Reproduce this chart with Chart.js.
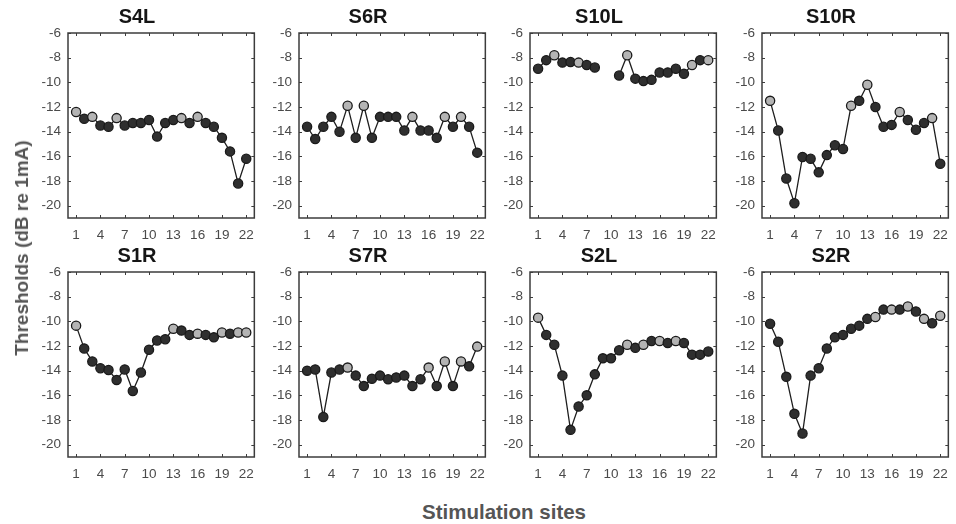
<!DOCTYPE html>
<html>
<head>
<meta charset="utf-8">
<script src="https://cdn.jsdelivr.net/npm/chart.js@4.4.1/dist/chart.umd.min.js"></script>
<style>
    html, body { margin: 0; padding: 0; background: #fff; overflow: hidden; }
    #fig { position: relative; width: 956px; height: 524px; }
    #fig canvas { position: absolute; }
    .axis-label {
        position: absolute;
        font-family: 'Liberation Sans', Arial, sans-serif;
        font-weight: bold;
        color: #555;
        white-space: nowrap;
    }
    #ylabel { left: 22px; top: 248px; font-size: 19px; transform: translate(-50%, -50%) rotate(-90deg); }
    #xlabel { left: 504px; top: 512px; font-size: 20.5px; transform: translate(-50%, -50%); }
</style>
</head>
<body>
<div id="fig">
    <div id="ylabel" class="axis-label">Thresholds (dB re 1mA)</div>
    <div id="xlabel" class="axis-label">Stimulation sites</div>
</div>
<script>
// =============================================================================
// Data (thresholds per stimulation site)
// =============================================================================

const sites = [1, 2, 3, 4, 5, 6, 7, 8, 9, 10, 11, 12, 13, 14, 15, 16, 17, 18, 19, 20, 21, 22];
const xTicks = [1, 4, 7, 10, 13, 16, 19, 22];
const yTicks = [-20, -18, -16, -14, -12, -10, -8, -6];

const S4L = [-12.4, -12.95, -12.8, -13.5, -13.6, -12.9, -13.5, -13.3, -13.3, -13.05, -14.4,
    -13.3, -13.05, -12.9, -13.3, -12.8, -13.3, -13.6, -14.5, -15.6, -18.2, -16.2];
const S4L_grey = [1, 3, 6, 14, 16];

const S6R = [-13.6, -14.6, -13.6, -12.8, -14.0, -11.9, -14.5, -11.9, -14.5, -12.8, -12.8,
    -12.8, -13.9, -12.8, -13.9, -13.9, -14.5, -12.8, -13.6, -12.8, -13.6, -15.7];
const S6R_grey = [6, 8, 14, 18, 20];

const S10L = [-8.9, -8.2, -7.8, -8.4, -8.35, -8.4, -8.6, -8.8, null, null, -9.45,
    -7.8, -9.7, -9.9, -9.8, -9.2, -9.2, -8.9, -9.3, -8.6, -8.2, -8.2];
const S10L_grey = [3, 6, 12, 20, 22];

const S10R = [-11.5, -13.9, -17.8, -19.8, -16.05, -16.2, -17.3, -15.9, -15.1, -15.4, -11.9,
    -11.5, -10.2, -12.0, -13.6, -13.45, -12.4, -13.05, -13.85, -13.3, -12.9, -16.6];
const S10R_grey = [1, 11, 13, 17, 21];

const S1R = [-10.35, -12.2, -13.25, -13.8, -13.95, -14.75, -13.9, -15.65, -14.15, -12.3, -11.55,
    -11.45, -10.6, -10.75, -11.1, -11.0, -11.1, -11.3, -10.9, -11.0, -10.9, -10.9];
const S1R_grey = [1, 13, 16, 19, 21, 22];

const S7R = [-14.0, -13.9, -17.75, -14.15, -13.9, -13.75, -14.4, -15.25, -14.65, -14.4, -14.7,
    -14.55, -14.4, -15.25, -14.7, -13.75, -15.25, -13.25, -15.25, -13.25, -13.65, -12.05];
const S7R_grey = [6, 16, 18, 20, 22];

const S2L = [-9.7, -11.1, -11.9, -14.4, -18.8, -16.9, -16.0, -14.3, -13.0, -13.0, -12.35,
    -11.9, -12.15, -11.9, -11.6, -11.6, -11.75, -11.6, -11.75, -12.7, -12.7, -12.45];
const S2L_grey = [1, 12, 14, 16, 18];

const S2R = [-10.2, -11.65, -14.5, -17.5, -19.1, -14.4, -13.8, -12.2, -11.3, -11.1, -10.6,
    -10.35, -9.8, -9.65, -9.05, -9.05, -9.05, -8.8, -9.2, -9.8, -10.15, -9.55];
const S2R_grey = [14, 16, 18, 20, 22];

const panels = [
    { name: 'S4L', values: S4L, grey: S4L_grey },
    { name: 'S6R', values: S6R, grey: S6R_grey },
    { name: 'S10L', values: S10L, grey: S10L_grey },
    { name: 'S10R', values: S10R, grey: S10R_grey },
    { name: 'S1R', values: S1R, grey: S1R_grey },
    { name: 'S7R', values: S7R, grey: S7R_grey },
    { name: 'S2L', values: S2L, grey: S2L_grey },
    { name: 'S2R', values: S2R, grey: S2R_grey }
];

// =============================================================================
// Layout / style
// =============================================================================

const LAYOUT = {
    colLeft: [68, 299, 530, 762],
    rowTop: [33, 272],
    plotW: 194,
    plotH: 185,
    axisW: 56,
    titleH: 34,
    xAxisH: 30,
    padRight: 1
};

const STYLE = {
    font: "'Liberation Sans', Arial, sans-serif",
    tickColor: '#4a4a4a',
    boxColor: '#3c3c3c',
    line: '#1e1e1e',
    dark: '#2f2f2f',
    light: '#b4b4b4',
    star: '#777777'
};

// draws the MATLAB-like box with inward ticks on all four sides
const boxPlugin = {
    id: 'box',
    beforeDatasetsDraw(chart) {
        const { ctx, chartArea: a, scales } = chart;
        const len = 3;
        ctx.save();
        ctx.strokeStyle = STYLE.boxColor;
        ctx.lineWidth = 1;
        ctx.beginPath();
        xTicks.forEach(v => {
            const x = Math.round(scales.x.getPixelForValue(v)) + 0.5;
            ctx.moveTo(x, a.bottom); ctx.lineTo(x, a.bottom - len);
            ctx.moveTo(x, a.top); ctx.lineTo(x, a.top + len);
        });
        yTicks.forEach(v => {
            const y = Math.round(scales.y.getPixelForValue(v)) + 0.5;
            ctx.moveTo(a.left, y); ctx.lineTo(a.left + len, y);
            ctx.moveTo(a.right, y); ctx.lineTo(a.right - len, y);
        });
        ctx.stroke();
        ctx.lineWidth = 1.5;
        ctx.strokeRect(a.left, a.top, a.right - a.left, a.bottom - a.top);
        ctx.restore();
    }
};

// =============================================================================
// Build charts
// =============================================================================

document.addEventListener('DOMContentLoaded', () => {
    const fig = document.getElementById('fig');
    panels.forEach((p, i) => {
        const col = i % 4;
        const row = Math.floor(i / 4);
        const canvas = document.createElement('canvas');
        const w = LAYOUT.axisW + LAYOUT.plotW + LAYOUT.padRight;
        const h = LAYOUT.titleH + LAYOUT.plotH + LAYOUT.xAxisH;
        canvas.width = w;
        canvas.height = h;
        canvas.style.width = w + 'px';
        canvas.style.height = h + 'px';
        canvas.style.left = (LAYOUT.colLeft[col] - LAYOUT.axisW) + 'px';
        canvas.style.top = (LAYOUT.rowTop[row] - LAYOUT.titleH) + 'px';
        fig.insertBefore(canvas, fig.firstChild);
        drawPanel(canvas, p);
    });
});

function drawPanel(canvas, p) {
    const fills = sites.map(s => p.grey.includes(s) ? STYLE.light : STYLE.dark);
    const starData = p.values.map((v, k) => p.grey.includes(sites[k]) ? null : v);

    new Chart(canvas.getContext('2d'), {
        type: 'line',
        data: {
            labels: sites,
            datasets: [
                {
                    data: p.values,
                    borderColor: STYLE.line,
                    borderWidth: 1.3,
                    tension: 0,
                    spanGaps: false,
                    pointRadius: 4.6,
                    pointBackgroundColor: fills,
                    pointBorderColor: '#1a1a1a',
                    pointBorderWidth: 1.3
                },
                {
                    data: starData,
                    showLine: false,
                    pointStyle: 'star',
                    pointRadius: 3.3,
                    pointBorderColor: STYLE.star,
                    pointBorderWidth: 0.9,
                    pointBackgroundColor: STYLE.star
                }
            ]
        },
        options: {
            responsive: false,
            animation: false,
            events: [],
            layout: { padding: { top: 0, left: 0, bottom: 0, right: LAYOUT.padRight } },
            plugins: {
                legend: { display: false },
                tooltip: { enabled: false },
                title: {
                    display: true,
                    text: p.name,
                    color: '#151515',
                    font: { family: STYLE.font, size: 20, weight: 'bold', lineHeight: 1.2 },
                    padding: { top: 6.5, bottom: 3.5 }
                }
            },
            scales: {
                x: {
                    type: 'linear',
                    min: 0,
                    max: 23,
                    grid: { display: false, drawTicks: false },
                    border: { display: false },
                    afterBuildTicks: s => { s.ticks = xTicks.map(v => ({ value: v })); },
                    afterFit: s => { s.height = LAYOUT.xAxisH; },
                    ticks: {
                        padding: 9,
                        maxRotation: 0,
                        autoSkip: false,
                        color: STYLE.tickColor,
                        font: { family: STYLE.font, size: 13.5 }
                    }
                },
                y: {
                    min: -21,
                    max: -6,
                    grid: { display: false, drawTicks: false },
                    border: { display: false },
                    afterBuildTicks: s => { s.ticks = yTicks.map(v => ({ value: v })); },
                    afterFit: s => { s.width = LAYOUT.axisW; },
                    ticks: {
                        padding: 7,
                        color: STYLE.tickColor,
                        font: { family: STYLE.font, size: 13.5 }
                    }
                }
            }
        },
        plugins: [boxPlugin]
    });
}
</script>
</body>
</html>
